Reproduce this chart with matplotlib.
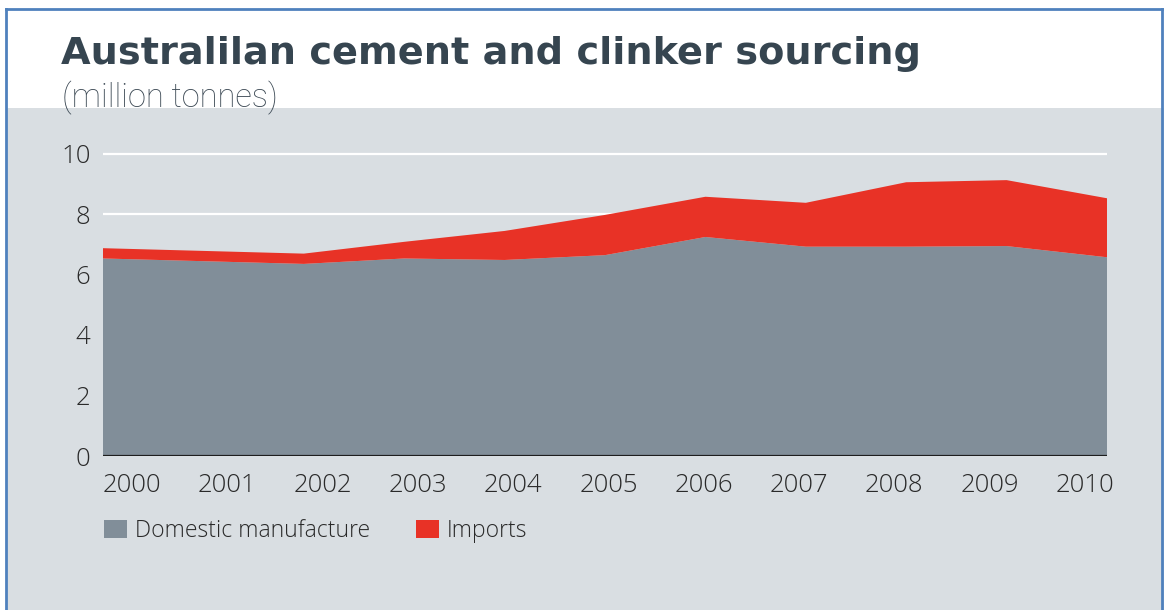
import numpy as np
import matplotlib
matplotlib.use("Agg")
import matplotlib.pyplot as plt
from matplotlib.patches import Patch, Rectangle
from matplotlib.lines import Line2D

# ---- data ----
years = [2000, 2001, 2002, 2003, 2004, 2005, 2006, 2007, 2008, 2009, 2010]
domestic = [6.53, 6.44, 6.35, 6.53, 6.48, 6.64, 7.24, 6.92, 6.92, 6.94, 6.57]
imports = [0.34, 0.34, 0.34, 0.55, 0.96, 1.33, 1.33, 1.45, 2.13, 2.18, 1.95]
series_names = ["Domestic manufacture", "Imports"]
year_labels = [str(y) for y in years]
y_ticks = [0, 2, 4, 6, 8, 10]

title = "Australilan cement and clinker sourcing"
subtitle = "(million tonnes)"

# ---- style ----
W, H = 1164, 610
GRAY = "#818e99"
RED = "#e83226"
PANEL = "#d9dee2"
TITLE_C = "#364550"
TEXT_C = "#2a2a2a"
BORDER = "#4f81bd"

fig = plt.figure(figsize=(W / 100, H / 100), dpi=100)
fig.patch.set_facecolor("white")

# gray panel
fig.patches.append(Rectangle((7 / W, 0), 1 - 7 / W, (H - 108) / H,
                             transform=fig.transFigure, facecolor=PANEL,
                             edgecolor="none", zorder=-5))
# border
bl = dict(transform=fig.transFigure, color=BORDER, lw=2, zorder=5)
fig.lines.append(Line2D([6 / W, 6 / W], [0, 1 - 9 / H], **bl))
fig.lines.append(Line2D([6 / W, 1 - 2 / W], [1 - 9 / H, 1 - 9 / H], **bl))
fig.lines.append(Line2D([1 - 2 / W, 1 - 2 / W], [0, 1 - 9 / H], **bl))

fig.text(61 / W, 1 - 54 / H, title, fontsize=27.5, fontweight="heavy",
         family=["DejaVu Sans"], color=TITLE_C, va="center", ha="left")
fig.text(62 / W, 1 - 98 / H, subtitle, fontsize=23.5, fontweight="light",
         family=["Roboto", "DejaVu Sans"],
         color="#3d4a55", va="center", ha="left")

# axes
x0, x1 = 103, 1107
ybase, ytop10 = 456, 153.5
ymax = 10.3
px_per_unit = (ybase - ytop10) / 10
ax_h = ymax * px_per_unit
ax = fig.add_axes([x0 / W, (H - ybase) / H, (x1 - x0) / W, ax_h / H])
ax.set_facecolor("none")
ax.set_xlim(years[0], years[-1])
ax.set_ylim(0, ymax)

for yv in y_ticks[1:]:
    ax.axhline(yv, color="white", lw=1.6, zorder=1)

ax.stackplot(years, domestic, imports, colors=[GRAY, RED],
             labels=series_names, zorder=2, lw=0)
ax.axhline(0, color="#1e1e1e", lw=1.6, zorder=3)

for s in ax.spines.values():
    s.set_visible(False)

font_light = dict(family=["Open Sans", "DejaVu Sans"])
ax.set_yticks(y_ticks)
ax.set_yticklabels([str(v) for v in y_ticks], fontsize=18.5, color=TEXT_C,
                   fontweight="light", **font_light)
ax.tick_params(axis="y", length=0, pad=9)

# labels in the original are spaced slightly tighter than the data points
lab_first, lab_step = 2000.29, 0.949
ax.set_xticks([lab_first + i * lab_step for i in range(len(year_labels))])
ax.set_xticklabels(year_labels, fontsize=18.5, color=TEXT_C,
                   fontweight="light", **font_light)
ax.tick_params(axis="x", length=0, pad=12)

handles = [Patch(facecolor=GRAY, edgecolor="none"),
           Patch(facecolor=RED, edgecolor="none")]
leg = fig.legend(handles, series_names, loc="center left",
                 bbox_to_anchor=(104 / W, 1 - 531 / H), ncol=2,
                 frameon=False, borderpad=0, borderaxespad=0,
                 handlelength=1.0, handleheight=0.86, handletextpad=0.35,
                 columnspacing=2.0,
                 prop=dict(family=["Open Sans", "DejaVu Sans"], size=16.5,
                           weight="light"))
for t in leg.get_texts():
    t.set_color(TEXT_C)

fig.savefig("out.png", dpi=100, facecolor=fig.get_facecolor())
